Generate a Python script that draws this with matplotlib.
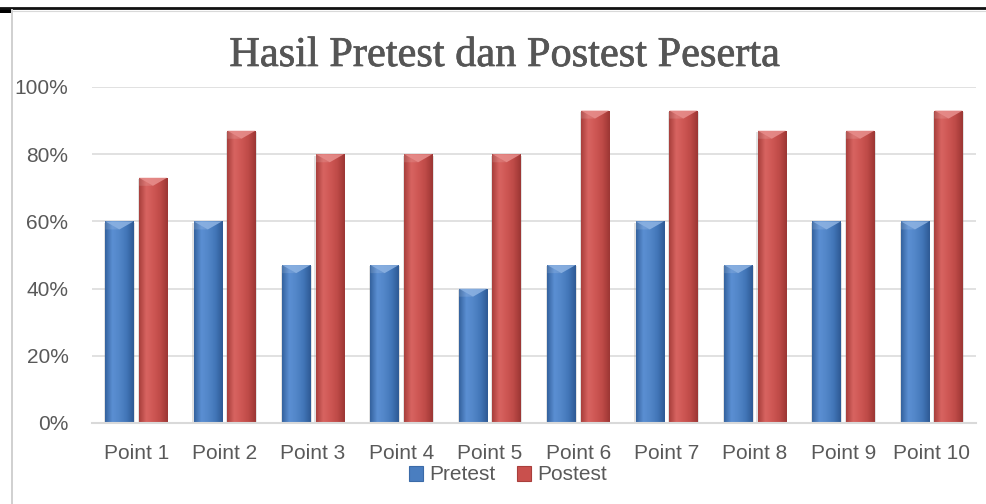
import matplotlib
matplotlib.use("Agg")
import matplotlib.pyplot as plt
import matplotlib.patheffects as pe
import numpy as np
from matplotlib.colors import LinearSegmentedColormap
from matplotlib.patches import Rectangle, Polygon
from matplotlib.lines import Line2D
from matplotlib.ticker import FuncFormatter, MultipleLocator

categories = ["Point 1", "Point 2", "Point 3", "Point 4", "Point 5",
              "Point 6", "Point 7", "Point 8", "Point 9", "Point 10"]
pretest = [0.60, 0.60, 0.47, 0.47, 0.40, 0.47, 0.60, 0.47, 0.60, 0.60]
postest = [0.73, 0.87, 0.80, 0.80, 0.80, 0.93, 0.93, 0.87, 0.87, 0.93]
series_names = ["Pretest", "Postest"]
title = "Hasil Pretest dan Postest Peserta"

W, H = 986, 504
fig = plt.figure(figsize=(W / 100, H / 100), dpi=100)
fig.patch.set_facecolor("white")

# page decorations
fig.add_artist(Line2D([0, 1], [1 - 8 / H, 1 - 8 / H], transform=fig.transFigure,
                      color="#111111", lw=2.0))
fig.add_artist(Line2D([12 / W, 1], [1 - 10.5 / H, 1 - 10.5 / H], transform=fig.transFigure,
                      color="#D9D9D9", lw=0.8))
fig.add_artist(Rectangle((0, 1 - 13 / H), 11 / W, 5 / H, transform=fig.transFigure,
                         color="black", lw=0))
fig.add_artist(Line2D([12 / W, 12 / W], [0, 1 - 10 / H], transform=fig.transFigure,
                      color="#D0D0D0", lw=1.4))

ax = fig.add_axes([92 / W, 1 - 423 / H, (976 - 92) / W, (423 - 87) / H])
ax.set_facecolor("none")

text_color = "#595959"
grid_color = "#D9D9D9"

blue_cmap = LinearSegmentedColormap.from_list(
    "b", ["#34629E", "#5B8FD3", "#5286C8", "#4276B8", "#2E5A94"])
red_cmap = LinearSegmentedColormap.from_list(
    "r", ["#A83F3C", "#D86461", "#CE5754", "#BE4A47", "#9C3634"])
blue_top = "#8FB4E3"
red_top = "#E8908E"

x = np.arange(len(categories))
width = 0.32
offset = 0.19
grad = np.linspace(0, 1, 64).reshape(1, -1)

for vals, off, cmap, topc in [(pretest, -offset, blue_cmap, blue_top),
                             (postest, offset, red_cmap, red_top)]:
    bars = ax.bar(x + off, vals, width=width, color=cmap(0.5), zorder=3, lw=0)
    for b in bars:
        x0, w, h = b.get_x(), b.get_width(), b.get_height()
        # soft shadow
        ax.add_patch(Rectangle((x0 - 0.014, 0), w + 0.028, h - 0.004,
                               color="#7F7F7F", alpha=0.22, lw=0, zorder=2))
        im = ax.imshow(grad, extent=[x0, x0 + w, 0, h], aspect="auto",
                       cmap=cmap, zorder=3.5, interpolation="bicubic")
        im.set_clip_path(b)
        d = 0.024
        ax.add_patch(Polygon([(x0, h), (x0 + w, h), (x0 + w * 0.5, h - d)],
                             closed=True, color=topc, alpha=0.85, lw=0, zorder=4))
        ax.add_patch(Polygon([(x0, h), (x0 + w * 0.5, h - d), (x0, h - d)],
                             closed=True, color="white", alpha=0.12, lw=0, zorder=4))

ax.set_xlim(-0.5, len(categories) - 0.5)
ax.set_ylim(0, 1.0)
ax.yaxis.set_major_locator(MultipleLocator(0.2))
ax.yaxis.set_major_formatter(FuncFormatter(lambda v, p: f"{v * 100:.0f}%"))
ax.set_xticks(x)
ax.set_xticklabels(categories)
ax.grid(axis="y", color=grid_color, lw=1.1, zorder=0)
ax.set_axisbelow(True)
for s in ["top", "right", "left"]:
    ax.spines[s].set_visible(False)
ax.spines["bottom"].set_color(grid_color)
ax.spines["bottom"].set_linewidth(1.5)
ax.spines["bottom"].set_zorder(5)
ax.tick_params(axis="y", length=0, labelsize=15, labelcolor=text_color, pad=17)
ax.tick_params(axis="x", length=0, labelsize=15, labelcolor=text_color, pad=15)
for lab in ax.get_xticklabels() + ax.get_yticklabels():
    lab.set_fontfamily("Liberation Sans")

fig.text(505 / W, 1 - 66 / H, title, ha="center", va="baseline",
         fontsize=30.5, color="#555555", family="Liberation Serif",
         path_effects=[pe.withStroke(linewidth=0.5, foreground="#555555")])

handles = [Rectangle((0, 0), 1, 1, facecolor="#4A7EC0", edgecolor="#3B6BA8", lw=0.8),
           Rectangle((0, 0), 1, 1, facecolor="#C9504D", edgecolor="#A93F3C", lw=0.8)]
leg = fig.legend(handles, series_names, loc="center", ncol=2,
                 bbox_to_anchor=(508 / W, 1 - 475 / H), frameon=False,
                 handlelength=0.7, handleheight=0.7, handletextpad=0.3,
                 columnspacing=1.0, borderpad=0,
                 prop={"family": "Liberation Sans", "size": 15})
for t in leg.get_texts():
    t.set_color(text_color)

fig.savefig("out.png", dpi=100)
